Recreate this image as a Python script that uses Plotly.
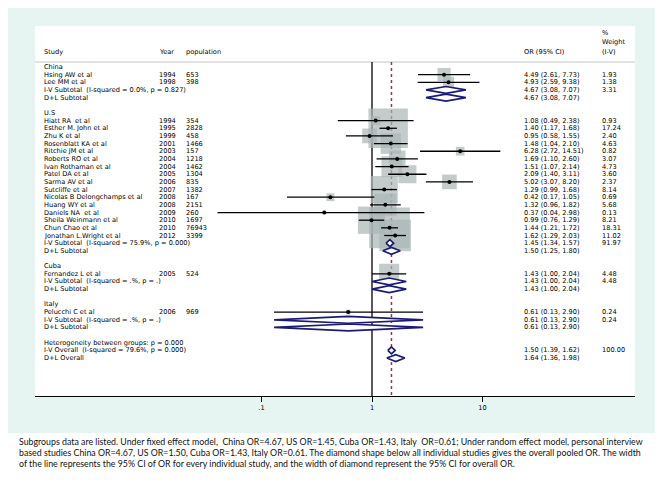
import plotly.graph_objects as go

# ---------------- data ----------------
groups = ["China", "U.S", "Cuba", "Italy"]
study_group = ["China", "China",
               "U.S", "U.S", "U.S", "U.S", "U.S", "U.S", "U.S", "U.S", "U.S", "U.S",
               "U.S", "U.S", "U.S", "U.S", "U.S", "U.S",
               "Cuba", "Italy"]
study_names = ["Hsing AW et al", "Lee MM et al",
               "Hiatt RA  et al", "Esther M. John et al", "Zhu K et al", "Rosenblatt KA et al",
               "Ritchie JM et al", "Roberts RO et al", "Ivan Rothaman et al", "Patel DA et al",
               "Sarma AV et al", "Sutcliffe et al", "Nicolas B Delongchamps et al", "Huang WY et al",
               "Daniels NA  et al", "Sheila Weinmann et al", "Chun Chao et al", "Jonathan L.Wright et al",
               "Fernandez L et al", "Pelucchi C et al"]
study_years = [1994, 1998, 1994, 1995, 1999, 2001, 2003, 2004, 2004, 2005, 2006, 2007,
               2008, 2008, 2009, 2010, 2010, 2012, 2005, 2006]
study_pops = [653, 398, 354, 2828, 458, 1466, 157, 1218, 1462, 1304, 835, 1382,
              167, 2151, 260, 1697, 76943, 3399, 524, 969]
study_or = [4.49, 4.93, 1.08, 1.40, 0.95, 1.48, 6.28, 1.69, 1.51, 2.09, 5.02, 1.29,
            0.42, 1.32, 0.37, 0.99, 1.44, 1.62, 1.43, 0.61]
study_lo = [2.61, 2.59, 0.49, 1.17, 0.58, 1.04, 2.72, 1.10, 1.07, 1.40, 3.07, 0.99,
            0.17, 0.96, 0.04, 0.76, 1.21, 1.29, 1.00, 0.13]
study_hi = [7.73, 9.38, 2.38, 1.68, 1.55, 2.10, 14.51, 2.60, 2.14, 3.11, 8.20, 1.68,
            1.05, 1.82, 2.98, 1.29, 1.72, 2.03, 2.04, 2.90]
study_wt = [1.93, 1.38, 0.93, 17.24, 2.40, 4.63, 0.82, 3.07, 4.73, 3.60, 2.37, 8.14,
            0.69, 5.68, 0.13, 8.21, 18.31, 11.02, 4.48, 0.24]

iv_het = ["(I-squared = 0.0%, p = 0.827)", "(I-squared = 75.9%, p = 0.000)",
          "(I-squared = .%, p = .)", "(I-squared = .%, p = .)"]
iv_or = [4.67, 1.45, 1.43, 0.61]
iv_lo = [3.08, 1.34, 1.00, 0.13]
iv_hi = [7.07, 1.57, 2.04, 2.90]
iv_wt = [3.31, 91.97, 4.48, 0.24]
dl_or = [4.67, 1.50, 1.43, 0.61]
dl_lo = [3.08, 1.25, 1.00, 0.13]
dl_hi = [7.07, 1.80, 2.04, 2.90]

het_between = "Heterogeneity between groups: p = 0.000"
overall_iv_het = "(I-squared = 79.6%, p = 0.000)"
overall_iv = [1.50, 1.39, 1.62, 100.00]
overall_dl = [1.64, 1.36, 1.98]

tick_vals = [0.1, 1, 10]
tick_text = [".1", "1", "10"]

caption_lines = [
    "Subgroups data are listed. Under fixed effect model,  China OR=4.67, US OR=1.45, Cuba OR=1.43, Italy  OR=0.61; Under random effect model, personal interview",
    "based studies China OR=4.67, US OR=1.50, Cuba OR=1.43, Italy OR=0.61. The diamond shape below all individual studies gives the overall pooled OR. The width",
    "of the line represents the 95% CI of OR for every individual study, and the width of diamond represent the 95% CI for overall OR.",
]

# ---------------- layout helpers (page pixel coords; body has 8px margin) ----------------
OFF = 8
W, H = 664 - 2 * OFF, 482 - 2 * OFF
PL, PR, PT, PB = 35, 635, 26, 396          # plot area in page pixels
L, R, T, B = PL - OFF, W - (PR - OFF), PT - OFF, H - (PB - OFF)
def px_x(p):
    return (p - PL) / (PR - PL)
def px_y(p):
    return (PB - p) / (PB - PT)

FONT = "DejaVu Sans, Liberation Sans, sans-serif"
FS = 6.6
BOX = "#a9b5b5"
NAVY = "#1b1b72"
DASH = "#8b3a4a"

COL_STUDY, COL_YEAR, COL_POP = px_x(43), px_x(158), px_x(185)
COL_CI, COL_WT = px_x(523), px_x(601)

annotations = []
def txt(x, y, s, yref="y", size=FS, font=FONT, color="black"):
    annotations.append(dict(x=x, y=y, xref="paper", yref=yref, text=s, showarrow=False,
                            xanchor="left", yanchor="middle", borderpad=0,
                            font=dict(family=font, size=size, color=color)))

def ci_text(o, lo, hi):
    return f"{o:.2f} ({lo:.2f}, {hi:.2f})"

# ---------------- build rows ----------------
row = 0
study_rows = []
diamonds = []  # (row, or, lo, hi)
for gi, g in enumerate(groups):
    txt(COL_STUDY, row, g)
    row += 1
    for i, sg in enumerate(study_group):
        if sg != g:
            continue
        txt(COL_STUDY, row, study_names[i])
        txt(COL_YEAR, row, str(study_years[i]))
        txt(COL_POP, row, str(study_pops[i]))
        txt(COL_CI, row, ci_text(study_or[i], study_lo[i], study_hi[i]))
        txt(COL_WT, row, f"{study_wt[i]:.2f}")
        study_rows.append((row, i))
        row += 1
    txt(COL_STUDY, row, "I-V Subtotal  " + iv_het[gi])
    txt(COL_CI, row, ci_text(iv_or[gi], iv_lo[gi], iv_hi[gi]))
    txt(COL_WT, row, f"{iv_wt[gi]:.2f}")
    diamonds.append((row, iv_or[gi], iv_lo[gi], iv_hi[gi]))
    row += 1
    txt(COL_STUDY, row, "D+L Subtotal")
    txt(COL_CI, row, ci_text(dl_or[gi], dl_lo[gi], dl_hi[gi]))
    diamonds.append((row, dl_or[gi], dl_lo[gi], dl_hi[gi]))
    row += 2

txt(COL_STUDY, row, het_between)
row += 1
txt(COL_STUDY, row, "I-V Overall  " + overall_iv_het)
txt(COL_CI, row, ci_text(*overall_iv[:3]))
txt(COL_WT, row, f"{overall_iv[3]:.2f}")
diamonds.append((row, *overall_iv[:3]))
row += 1
txt(COL_STUDY, row, "D+L Overall")
txt(COL_CI, row, ci_text(*overall_dl))
diamonds.append((row, *overall_dl))

# headers
HDR = -1.96
txt(COL_STUDY, HDR, "Study")
txt(COL_YEAR, HDR, "Year")
txt(COL_POP, HDR, "population")
txt(COL_CI, HDR, "OR (95% CI)")
txt(COL_WT, -4.5, "%")
txt(COL_WT, -3.22, "Weight")
txt(COL_WT, HDR, "(I-V)")

for k, line in enumerate(caption_lines):
    annotations.append(dict(x=px_x(18), y=px_y(441 + 11 * k), xref="paper",
                            yref="paper", text=line, showarrow=False, xanchor="left",
                            yanchor="middle", borderpad=0,
                            font=dict(family="Lato, Open Sans, sans-serif", size=8.8, color="#111")))

Y_TOP, Y_BOT = -0.65, 42.95

fig = go.Figure()
# reference lines
fig.add_trace(go.Scatter(x=[1, 1], y=[Y_TOP, Y_BOT], mode="lines",
                         line=dict(color="black", width=1.3), hoverinfo="skip"))
fig.add_trace(go.Scatter(x=[overall_iv[0], overall_iv[0]], y=[Y_TOP, Y_BOT], mode="lines",
                         line=dict(color=DASH, width=1.5, dash="3px,3px"), hoverinfo="skip"))

# weight boxes
rows_s = [r for r, i in study_rows]
idx_s = [i for r, i in study_rows]
fig.add_trace(go.Scatter(x=[study_or[i] for i in idx_s], y=rows_s, mode="markers",
                         marker=dict(symbol="square", color=BOX,
                                     size=[9.5 * study_wt[i] ** 0.5 for i in idx_s],
                                     line=dict(width=0)), hoverinfo="skip"))
# CI lines
cx, cy = [], []
for r, i in study_rows:
    cx += [study_lo[i], study_hi[i], None]
    cy += [r, r, None]
fig.add_trace(go.Scatter(x=cx, y=cy, mode="lines", line=dict(color="black", width=1.3),
                         hoverinfo="skip"))
# point estimates
fig.add_trace(go.Scatter(x=[study_or[i] for i in idx_s], y=rows_s, mode="markers",
                         marker=dict(symbol="circle", color="black", size=4), hoverinfo="skip"))
# diamonds
for r, o, lo, hi in diamonds:
    h = 0.45
    fig.add_trace(go.Scatter(x=[lo, o, hi, o, lo], y=[r, r - h, r, r + h, r], mode="lines",
                             fill="toself", fillcolor="white",
                             line=dict(color=NAVY, width=1.7), hoverinfo="skip"))

shapes = [
    dict(type="rect", xref="paper", yref="paper", x0=px_x(8), x1=px_x(655), y0=px_y(433),
         y1=px_y(7), fillcolor="#e7f5f2", line=dict(width=0), layer="below"),
    dict(type="rect", xref="paper", yref="paper", x0=0, x1=1, y0=0, y1=1,
         fillcolor="white", line=dict(width=0), layer="below"),
    dict(type="line", xref="paper", yref="y", x0=0, x1=1, y0=Y_TOP, y1=Y_TOP,
         line=dict(color="#c4c4c4", width=1), layer="below"),
]

fig.update_layout(
    width=W, height=H, margin=dict(l=L, r=R, t=T, b=B),
    paper_bgcolor="white", plot_bgcolor="rgba(0,0,0,0)",
    showlegend=False, shapes=shapes, annotations=annotations,
    font=dict(family=FONT, size=FS, color="black"),
)
fig.update_xaxes(type="log", range=[(PL - 372) / 110.5, (PR - 372) / 110.5],
                 tickvals=tick_vals, ticktext=tick_text, showgrid=False, zeroline=False,
                 showline=True, linecolor="black", linewidth=1.3, ticks="outside",
                 ticklen=5, tickwidth=1.3, tickcolor="black",
                 tickfont=dict(family=FONT, size=FS), fixedrange=True)
fig.update_yaxes(range=[Y_BOT, -5.35], showgrid=False, zeroline=False, showline=False,
                 showticklabels=False, ticks="", fixedrange=True)

fig.write_html("out.html")
